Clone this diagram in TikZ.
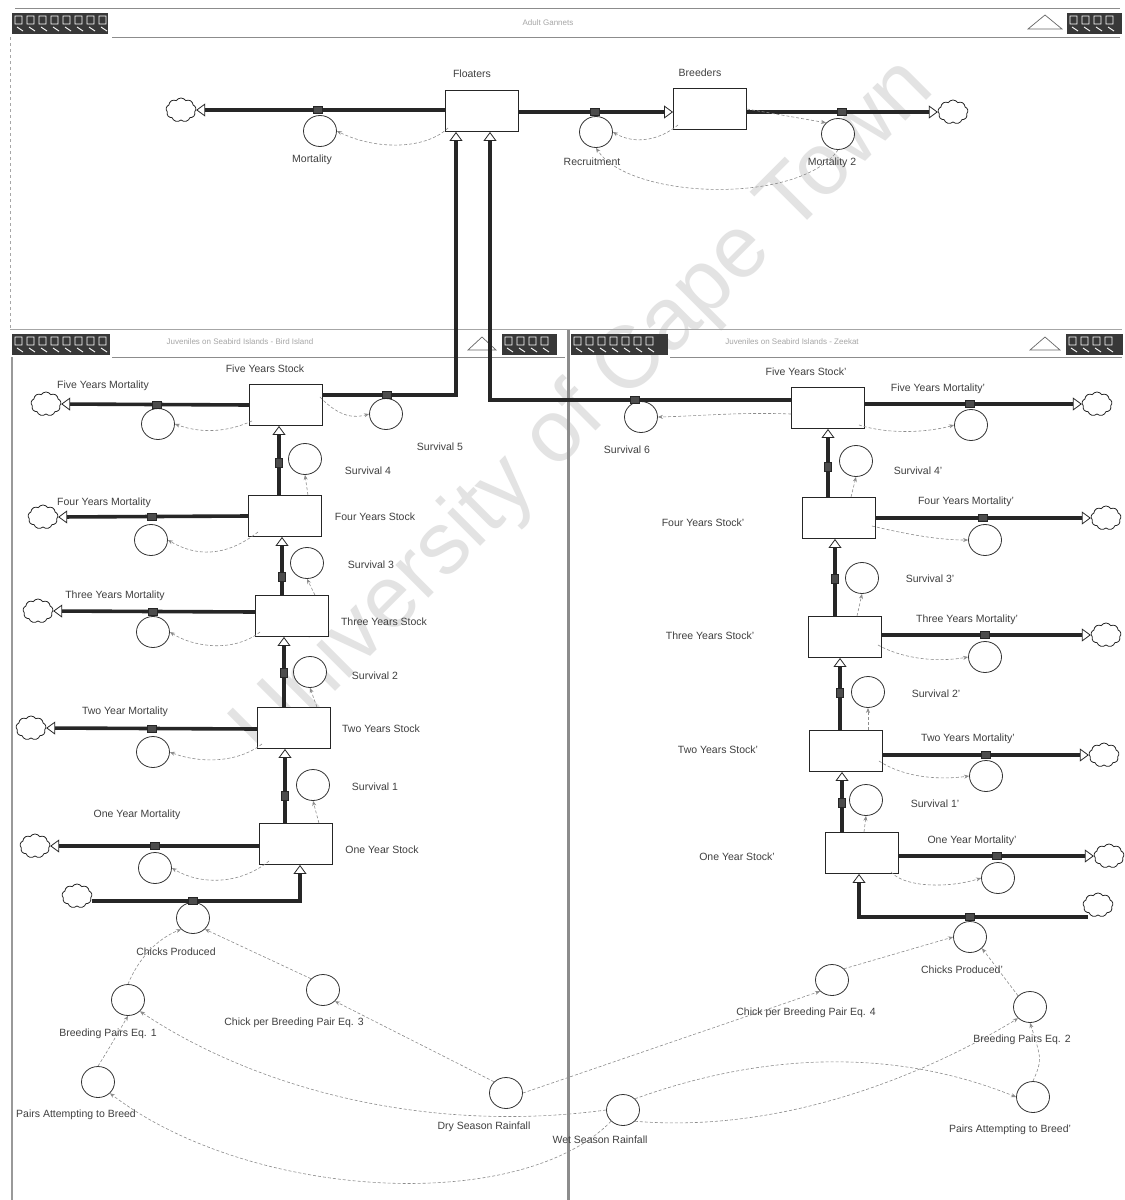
\documentclass[tikz,border=0pt]{standalone}
\usepackage{fontspec}
\setmainfont{Liberation Sans}
\usetikzlibrary{shapes.geometric,shapes.symbols,arrows.meta}
\begin{document}
\begin{tikzpicture}[x=1pt,y=-1pt,
 stock/.style={draw=black!85,line width=0.9pt,fill=white,minimum width=73pt,minimum height=41pt,inner sep=0},
 conv/.style={ellipse,draw=black!80,line width=0.8pt,fill=white,minimum width=33pt,minimum height=31pt,inner sep=0},
 valveh/.style={rectangle,fill=black!70,draw=black!85,minimum width=9pt,minimum height=7pt,inner sep=0},
 valvev/.style={rectangle,fill=black!70,draw=black!85,minimum width=7pt,minimum height=9pt,inner sep=0},
 cloudn/.style={cloud,cloud puffs=9,cloud puff arc=115,aspect=1.2,draw=black!85,line width=0.8pt,fill=white,minimum width=30pt,minimum height=24pt,inner sep=0},
 pipe/.style={draw=black!85,line width=3.6pt},
 ftip/.style={-{Triangle[fill=white,length=9pt,width=13pt,line width=0.8pt]}},
 conn/.style={draw=black!45,line width=0.6pt,dash pattern=on 3pt off 2pt,-{Stealth[length=5pt,width=4pt]}},
 lab/.style={font=\fontsize{10.5}{12}\selectfont,text=black!75,inner sep=0},
 ttl/.style={font=\fontsize{8}{9}\selectfont,text=black!35,inner sep=0},
 chrome/.style={draw=black!45,line width=0.8pt},
 tri/.style={draw=black!60,line width=0.7pt,fill=white}]
\useasboundingbox (0,0) rectangle (1125,1200);
\fill[white] (0,0) rectangle (1125,1200);
% watermark
\node[rotate=45,text=black!11,font=\fontsize{88}{90}\selectfont,inner sep=0] (wm) at (585,410) {University of Cape Town};

% ---------- window chrome ----------
\draw[chrome] (15,8) -- (1120,8);
\draw[chrome] (112,37) -- (1120,37);
\draw[chrome,dashed,draw=black!35] (10,37) -- (10,328);
\draw[chrome,draw=black!35] (10,329) -- (1122,329);
\fill[black!78] (12,13) rectangle (108,34);
\foreach \k in {14,26,...,98}{\draw[white,line width=0.9pt] (\k+1,16) rectangle (\k+8,24) (\k+3,27) -- (\k+9,31);}
\node[ttl] (t0) at (548,23) {Adult Gannets};
\draw[tri] (1028,29) -- (1045,15) -- (1062,29) -- cycle;
\fill[black!78] (1067,13) rectangle (1122,34);
\foreach \k in {1069,1081,...,1110}{\draw[white,line width=0.9pt] (\k+1,16) rectangle (\k+8,24) (\k+3,27) -- (\k+9,31);}

\draw[chrome] (112,357) -- (565,357);
\draw[chrome] (670,357) -- (1122,357);
\fill[black!78] (12,334) rectangle (110,355);
\foreach \k in {14,26,...,98}{\draw[white,line width=0.9pt] (\k+1,337) rectangle (\k+8,345) (\k+3,348) -- (\k+9,352);}
\node[ttl] (t1) at (240,342) {Juveniles on Seabird Islands - Bird Island};
\draw[tri] (468,350) -- (482,337) -- (496,350) -- cycle;
\fill[black!78] (502,334) rectangle (557,355);
\foreach \k in {504,516,...,545}{\draw[white,line width=0.9pt] (\k+1,337) rectangle (\k+8,345) (\k+3,348) -- (\k+9,352);}
\fill[black!78] (571,334) rectangle (668,355);
\foreach \k in {573,585,...,656}{\draw[white,line width=0.9pt] (\k+1,337) rectangle (\k+8,345) (\k+3,348) -- (\k+9,352);}
\node[ttl] (t2) at (792,342) {Juveniles on Seabird Islands - Zeekat};
\draw[tri] (1030,350) -- (1045,337) -- (1060,350) -- cycle;
\fill[black!78] (1066,334) rectangle (1123,355);
\foreach \k in {1068,1080,...,1110}{\draw[white,line width=0.9pt] (\k+1,337) rectangle (\k+8,345) (\k+3,348) -- (\k+9,352);}
\draw[draw=black!40,line width=1.6pt] (12,357) -- (12,1200);
\draw[draw=black!45,line width=3pt] (568,330) -- (568,1200);

% ---------- top: adults ----------
\node[stock] (fl) at (482,111) {};
\node[stock] (br) at (710,109) {};
\node[cloudn] (c0a) at (181,110) {};
\node[cloudn] (c0b) at (953,112) {};
\node[conv] (mo) at (320,131) {};
\node[conv] (rec) at (596,132) {};
\node[conv] (mo2) at (838,134) {};

% ---------- left panel nodes ----------
\node[stock] (fys) at (286,405) {};
\node[stock] (fos) at (285,516) {};
\node[stock] (ths) at (292,616) {};
\node[stock] (tws) at (294,728) {};
\node[stock] (oys) at (296,844) {};
\node[cloudn] (cl5) at (46,404) {};
\node[cloudn] (cl4) at (43,517) {};
\node[cloudn] (cl3) at (38,611) {};
\node[cloudn] (cl2) at (31,728) {};
\node[cloudn] (cl1) at (35,846) {};
\node[cloudn] (clb) at (77,896) {};
\node[conv] (m5) at (158,424) {};
\node[conv] (m4) at (151,540) {};
\node[conv] (m3) at (153,632) {};
\node[conv] (mt2) at (153,752) {};
\node[conv] (mt1) at (155,868) {};
\node[conv] (s5) at (386,414) {};
\node[conv] (s4) at (305,459) {};
\node[conv] (s3) at (307,563) {};
\node[conv] (s2) at (310,672) {};
\node[conv] (s1) at (313,785) {};
\node[conv] (cp) at (193,918) {};
\node[conv] (bp1) at (128,1000) {};
\node[conv] (cbp3) at (323,990) {};
\node[conv] (pab) at (98,1082) {};
\node[conv] (dry) at (506,1093) {};
\node[conv] (wet) at (623,1110) {};

% ---------- right panel nodes ----------
\node[stock] (fysr) at (828,408) {};
\node[stock] (fosr) at (839,518) {};
\node[stock] (thsr) at (845,637) {};
\node[stock] (twsr) at (846,751) {};
\node[stock] (oysr) at (862,853) {};
\node[cloudn] (cr5) at (1097,404) {};
\node[cloudn] (cr4) at (1106,518) {};
\node[cloudn] (cr3) at (1106,635) {};
\node[cloudn] (cr2) at (1104,755) {};
\node[cloudn] (cr1) at (1109,856) {};
\node[cloudn] (crb) at (1098,905) {};
\node[conv] (m5r) at (971,425) {};
\node[conv] (m4r) at (985,540) {};
\node[conv] (m3r) at (985,657) {};
\node[conv] (m2r) at (986,776) {};
\node[conv] (m1r) at (998,878) {};
\node[conv] (s6) at (641,417) {};
\node[conv] (s4r) at (856,461) {};
\node[conv] (s3r) at (862,578) {};
\node[conv] (s2r) at (868,692) {};
\node[conv] (s1r) at (866,800) {};
\node[conv] (cpr) at (970,937) {};
\node[conv] (cbp4) at (832,980) {};
\node[conv] (bp2) at (1030,1007) {};
\node[conv] (pabr) at (1033,1097) {};

% ---------- pipes ----------
\draw[pipe,ftip] (fl.west |- 0,110) -- (c0a.east);
\draw[pipe,ftip] (fl.east |- 0,112) -- (br.west |- 0,112);
\draw[pipe,ftip] (br.east |- 0,112) -- (c0b.west);
\draw[pipe,ftip] (fys.east |- 0,395) -- (456,395) -- (456,0 |- fl.south);
\draw[pipe,ftip] (fysr.west |- 0,400) -- (490,400) -- (490,0 |- fl.south);

\draw[pipe,ftip] (fys.west) -- (cl5.east);
\draw[pipe,ftip] (fos.west) -- (cl4.east);
\draw[pipe,ftip] (ths.west |- 0,612) -- (cl3.east);
\draw[pipe,ftip] (tws.west |- 0,729) -- (cl2.east);
\draw[pipe,ftip] (oys.west |- 0,846) -- (cl1.east);
\draw[pipe,ftip] (279,0 |- fos.north) -- (279,0 |- fys.south);
\draw[pipe,ftip] (282,0 |- ths.north) -- (282,0 |- fos.south);
\draw[pipe,ftip] (284,0 |- tws.north) -- (284,0 |- ths.south);
\draw[pipe,ftip] (285,0 |- oys.north) -- (285,0 |- tws.south);
\draw[pipe,ftip] (clb.east |- 0,901) -- (300,901) -- (300,0 |- oys.south);

\draw[pipe,ftip] (fysr.east |- 0,404) -- (cr5.west);
\draw[pipe,ftip] (fosr.east) -- (cr4.west);
\draw[pipe,ftip] (thsr.east |- 0,635) -- (cr3.west);
\draw[pipe,ftip] (twsr.east |- 0,755) -- (cr2.west);
\draw[pipe,ftip] (oysr.east |- 0,856) -- (cr1.west);
\draw[pipe,ftip] (828,0 |- fosr.north) -- (828,0 |- fysr.south);
\draw[pipe,ftip] (835,0 |- thsr.north) -- (835,0 |- fosr.south);
\draw[pipe,ftip] (840,0 |- twsr.north) -- (840,0 |- thsr.south);
\draw[pipe,ftip] (842,0 |- oysr.north) -- (842,0 |- twsr.south);
\draw[pipe,ftip] (crb.south west |- 0,917) -- (859,917) -- (859,0 |- oysr.south);

% ---------- valves ----------
\node[valveh] (v1) at (318,110) {};
\node[valveh] (v2) at (595,112) {};
\node[valveh] (v3) at (842,112) {};
\node[valveh] (v4) at (387,395) {};
\node[valveh] (v5) at (635,400) {};
\node[valveh] (v6) at (157,405) {};
\node[valveh] (v7) at (152,517) {};
\node[valveh] (v8) at (153,612) {};
\node[valveh] (v9) at (152,729) {};
\node[valveh] (v10) at (155,846) {};
\node[valveh] (v11) at (193,901) {};
\node[valvev] (v12) at (279,463) {};
\node[valvev] (v13) at (282,577) {};
\node[valvev] (v14) at (284,673) {};
\node[valvev] (v15) at (285,796) {};
\node[valveh] (v16) at (970,404) {};
\node[valveh] (v17) at (983,518) {};
\node[valveh] (v18) at (985,635) {};
\node[valveh] (v19) at (986,755) {};
\node[valveh] (v20) at (997,856) {};
\node[valveh] (v21) at (970,917) {};
\node[valvev] (v22) at (828,467) {};
\node[valvev] (v23) at (835,579) {};
\node[valvev] (v24) at (840,693) {};
\node[valvev] (v25) at (842,803) {};

% ---------- connectors ----------
\draw[conn] ([shift={(3,-4)}]fl.south west) .. controls (425,150) and (375,150) .. (mo.east);
\draw[conn] ([shift={(5,-5)}]br.south west) .. controls (660,140) and (635,145) .. (rec.east);
\draw[conn] (br.east) -- (mo2.north west);
\draw[conn] (mo2.south) .. controls (800,205) and (630,200) .. (rec.south);

\draw[conn] ([shift={(3,-5)}]fys.south west) .. controls (225,433) and (200,433) .. (m5.east);
\draw[conn] ([shift={(-3,-8)}]fys.east) .. controls (340,418) and (355,418) .. (s5.west);
\draw[conn] ([shift={(-14,0)}]fos.north east) -- (s4.south);
\draw[conn] ([shift={(10,-5)}]fos.south west) .. controls (225,558) and (195,556) .. (m4.east);
\draw[conn] ([shift={(-14,0)}]ths.north east) -- (s3.south);
\draw[conn] ([shift={(5,-5)}]ths.south west) .. controls (235,652) and (195,648) .. (m3.east);
\draw[conn] ([shift={(-14,0)}]tws.north east) -- (s2.south);
\draw[conn] ([shift={(5,-5)}]tws.south west) .. controls (235,765) and (195,762) .. (mt2.east);
\draw[conn] ([shift={(-14,0)}]oys.north east) -- (s1.south);
\draw[conn] ([shift={(10,-4)}]oys.south west) .. controls (240,885) and (200,885) .. (mt1.east);
\draw[conn] (bp1.north) .. controls (138,960) and (155,940) .. (cp.south west);
\draw[conn] (cbp3.north west) -- (cp.south east);
\draw[conn] (pab.north) .. controls (108,1050) .. (bp1.south);
\draw[conn] (dry.north west) -- (cbp3.south east);
\draw[conn] (wet.west) .. controls (420,1135) and (250,1085) .. (bp1.south east);
\draw[conn] (wet.south west) .. controls (520,1215) and (250,1200) .. (pab.south east);

\draw[conn] ([shift={(0,6)}]fysr.west) .. controls (740,412) and (700,416) .. (s6.east);
\draw[conn] ([shift={(-6,-4)}]fysr.south east) .. controls (890,435) and (930,432) .. (m5r.west);
\draw[conn] ([shift={(12,0)}]fosr.north) -- (s4r.south);
\draw[conn] ([shift={(-4,8)}]fosr.east) .. controls (910,535) and (940,540) .. (m4r.west);
\draw[conn] ([shift={(12,0)}]thsr.north) -- (s3r.south);
\draw[conn] ([shift={(-4,8)}]thsr.east) .. controls (905,660) and (940,662) .. (m3r.west);
\draw[conn] ([shift={(22,0)}]twsr.north) -- (s2r.south);
\draw[conn] ([shift={(-4,10)}]twsr.east) .. controls (905,778) and (940,780) .. (m2r.west);
\draw[conn] ([shift={(2,0)}]oysr.north) -- (s1r.south);
\draw[conn] ([shift={(-8,-2)}]oysr.south east) .. controls (905,888) and (950,888) .. (m1r.west);
\draw[conn] (cbp4.north east) -- (cpr.west);
\draw[conn] (bp2.north west) -- (cpr.south east);
\draw[conn] (pabr.north) .. controls (1042,1060) .. (bp2.south);
\draw[conn] (dry.east) -- (cbp4.south west);
\draw[conn] (wet.north east) .. controls (770,1050) and (900,1050) .. (pabr.west);
\draw[conn] (wet.south east) .. controls (800,1135) and (950,1060) .. (bp2.south west);

% ---------- labels ----------
\node[lab] (lfl) at (472,74) {Floaters};
\node[lab] (lbr) at (700,73) {Breeders};
\node[lab] (lmo) at (312,160) {Mortality};
\node[lab] (lrec) at (592,162) {Recruitment};
\node[lab] (lmo2) at (832,163) {Mortality 2};

\node[lab] (lfys) at (265,369) {Five Years Stock};
\node[lab] (lm5) at (103,386) {Five Years Mortality};
\node[lab] (ls5) at (440,447) {Survival 5};
\node[lab] (ls4) at (368,471) {Survival 4};
\node[lab] (lfos) at (375,517) {Four Years Stock};
\node[lab] (lm4) at (104,503) {Four Years Mortality};
\node[lab] (ls3) at (371,565) {Survival 3};
\node[lab] (lm3) at (115,596) {Three Years Mortality};
\node[lab] (lths) at (384,622) {Three Years Stock};
\node[lab] (ls2) at (375,676) {Survival 2};
\node[lab] (lm2) at (125,712) {Two Year Mortality};
\node[lab] (ltws) at (381,729) {Two Years Stock};
\node[lab] (ls1) at (375,787) {Survival 1};
\node[lab] (lm1) at (137,815) {One Year Mortality};
\node[lab] (loys) at (382,850) {One Year Stock};
\node[lab] (lcp) at (176,952) {Chicks Produced};
\node[lab] (lbp1) at (108,1034) {Breeding Pairs Eq. 1};
\node[lab] (lcbp3) at (294,1023) {Chick per Breeding Pair Eq. 3};
\node[lab] (lpab) at (76,1115) {Pairs Attempting to Breed};
\node[lab] (ldry) at (484,1127) {Dry Season Rainfall};
\node[lab] (lwet) at (600,1140) {Wet Season Rainfall};

\node[lab] (lfysr) at (806,372) {Five Years Stock'};
\node[lab] (lm5r) at (938,389) {Five Years Mortality'};
\node[lab] (ls6) at (627,450) {Survival 6};
\node[lab] (ls4r) at (918,471) {Survival 4'};
\node[lab] (lm4r) at (966,502) {Four Years Mortality'};
\node[lab] (lfosr) at (703,523) {Four Years Stock'};
\node[lab] (ls3r) at (930,579) {Survival 3'};
\node[lab] (lm3r) at (967,620) {Three Years Mortality'};
\node[lab] (lthsr) at (710,636) {Three Years Stock'};
\node[lab] (ls2r) at (936,694) {Survival 2'};
\node[lab] (lm2r) at (968,739) {Two Years Mortality'};
\node[lab] (ltwsr) at (718,750) {Two Years Stock'};
\node[lab] (ls1r) at (935,804) {Survival 1'};
\node[lab] (lm1r) at (972,841) {One Year Mortality'};
\node[lab] (loysr) at (737,857) {One Year Stock'};
\node[lab] (lcpr) at (962,970) {Chicks Produced'};
\node[lab] (lcbp4) at (806,1013) {Chick per Breeding Pair Eq. 4};
\node[lab] (lbp2) at (1022,1040) {Breeding Pairs Eq. 2};
\node[lab] (lpabr) at (1010,1130) {Pairs Attempting to Breed'};
\end{tikzpicture}
\end{document}
